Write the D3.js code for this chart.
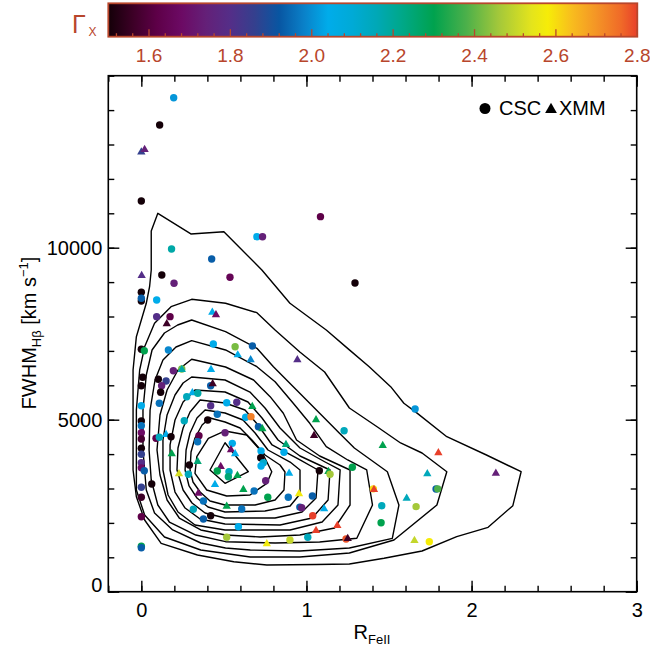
<!DOCTYPE html>
<html><head><meta charset="utf-8">
<script src="https://cdn.jsdelivr.net/npm/d3@7/dist/d3.min.js"></script>
<style>
body{margin:0;background:#fff}
svg{display:block}
text{font-family:"Liberation Sans",Arial,Helvetica,sans-serif}
</style>
</head><body>
<svg id="chart" width="650" height="652"></svg>
<script>
// ---------------- DATA ----------------
const rFeII = [0.196,0.111,0.00,0.02,0.00,1.085,0.70,0.734,0.183,0.426,1.294,0.002,0.124,0.537,0.198,0.0,0.0,0.0,0.093,0.43,
0.452,0.093,0.174,0.154,0.0,0.018,0.164,0.436,0.568,0.673,0.584,0.662,0.945,0.008,0.0,0.103,0.194,0.245,0.245,0.422,
0.15,0.123,0.117,0.42,0.432,0.0,0.109,0.309,0.342,0.275,0.42,0.517,0.578,0.672,0.46,0.402,0.632,0.664,0.709,0.733,
1.058,1.046,1.228,1.462,0.0,0.0,0.0,0.0,0.089,0.109,0.15,0.18,0.26,0.349,0.341,0.507,0.551,0.0,0.0,0.0,
0.0,0.018,0.0,0.0,0.0,0.0,0.0,0.063,0.184,0.291,0.228,0.285,0.341,0.543,0.568,0.481,0.46,0.531,0.527,0.582,
0.446,0.618,0.725,0.723,0.739,0.725,0.864,0.876,1.078,0.895,1.133,1.143,1.278,0.753,0.683,0.766,0.345,0.376,0.315,0.376,
0.42,0.517,0.608,0.588,0.517,0.76,0.90,1.008,0.955,0.89,0.96,0.971,1.036,1.107,1.038,1.058,1.187,1.24,1.25,1.405,
1.409,1.456,1.452,1.658,1.799,1.732,2.147,1.607,1.785,1.795,1.664,1.654,1.744];
const fwhmHb = [14360,13567,12800,12870,11357,10902,10320,10320,9962,9672,8974,9206,9206,9139,8965,8703,8450,8530,8480,8140,
8064,7995,7995,7803,7047,7006,7026,7200,7122,7142,6900,6756,6756,6233,5989,6175,6425,6474,6474,6474,
6125,5989,5797,5989,6058,5407,5477,5797,5768,5669,5407,5494,5506,5398,5157,4991,5070,5088,4797,4750,
5012,4555,4680,4265,4962,4826,4622,4439,4459,4488,4584,4506,4971,4535,4361,4622,4313,4168,3994,3750,
3600,3518,3035,2744,2180,1320,1279,3131,4023,3683,3442,3413,3799,4140,4023,3654,3509,3489,3343,3392,
3131,2986,4090,3896,3750,3654,4052,4294,3518,3460,3509,3413,3616,3227,2927,2744,2878,2637,2395,2113,
2209,2500,2404,1890,1581,1407,1503,1581,2860,2744,2460,2442,2782,2424,2209,1794,1939,1532,1560,2990,
2986,2500,2006,5311,4052,3442,3460,2733,2986,2990,2472,1503,1454];
const gammaX = [2.01,1.50,1.86,1.74,1.50,1.62,2.04,1.74,2.18,1.93,1.50,1.80,1.50,1.65,1.74,1.50,1.50,1.93,2.04,2.04,
1.68,1.80,1.62,1.56,1.50,2.30,1.99,2.04,2.42,1.93,2.04,1.99,1.80,1.50,1.50,1.50,1.74,2.42,2.18,2.04,
1.86,1.74,1.50,1.93,1.56,2.04,1.96,2.04,2.18,2.15,1.80,2.04,1.80,2.30,1.96,1.50,2.04,2.73,1.93,2.30,
2.30,1.56,2.15,2.30,1.50,1.96,1.68,1.58,1.62,2.15,2.04,1.50,2.15,1.62,1.96,1.74,2.04,1.50,1.86,1.80,
1.68,1.93,1.86,1.56,1.62,2.30,1.93,1.50,2.30,1.50,2.52,2.15,2.25,1.68,2.04,1.68,2.30,2.15,2.25,2.30,
2.04,2.30,2.04,1.50,2.12,2.04,2.04,2.25,1.50,2.04,2.30,2.46,2.30,1.74,1.96,2.30,1.68,1.96,2.15,1.93,
1.50,2.30,1.96,2.04,2.46,2.57,2.50,2.15,2.57,1.96,1.93,1.74,1.93,2.04,2.80,2.80,2.80,2.78,1.56,2.60,
2.80,2.15,2.30,2.01,2.80,2.15,1.74,2.15,1.93,2.38,2.46,2.50,2.58];
const survey = ["C","C","X","X","C","C","C","C","C","C","C","X","C","C","C","C","C","C","C","X",
"X","C","C","X","C","C","C","C","C","C","X","X","X","C","C","C","C","C","X","X",
"C","C","C","C","X","C","C","X","C","C","C","C","C","X","C","C","C","C","C","X",
"X","X","C","X","C","C","C","C","C","C","X","C","C","C","C","C","C","C","C","C",
"C","C","C","C","C","C","C","C","X","C","X","C","X","X","X","X","C","C","C","X",
"X","X","C","C","C","C","C","X","C","X","X","C","C","C","C","C","X","C","C","C",
"C","X","C","C","C","X","C","C","X","C","C","C","C","X","C","X","X","C","X","C",
"X","C","C","C","X","X","X","X","C","C","C","X","C"];

// density contours of the parent sample, outermost first  [R_FeII, FWHM]
const contours = [
 [[0.10,11000],[0.30,10400],[0.50,10465],[0.73,9352],[0.90,8384],[1.12,7608],[1.26,7030],[1.38,6540],[1.51,5960],[1.59,5477],[1.67,5190],[1.85,4505],[2.09,3974],[2.30,3488],[2.25,2500],[2.10,1872],[1.91,1600],[1.70,1183],[1.47,971],[1.26,805],[1.06,791],[0.76,776],[0.56,872],[0.34,1067],[0.12,1407],[0.02,2084],[-0.03,2760],[-0.05,3538],[-0.05,4410],[-0.05,6445],[-0.03,7413],[0.03,8384],[0.05,8866],[0.06,9352],[0.06,10485]],
 [[0.305,8500],[0.51,8384],[0.70,8111],[0.81,7608],[0.96,6970],[1.11,6387],[1.26,5340],[1.43,4788],[1.57,4323],[1.70,4032],[1.85,3488],[1.79,2520],[1.53,1503],[1.26,1125],[0.96,1009],[0.66,1009],[0.36,1212],[0.14,1590],[0.02,2230],[-0.03,2956],[-0.03,4119],[-0.03,5282],[-0.01,6445],[0.02,7120],[0.08,7802],[0.18,8285]],
 [[0.305,7899],[0.51,7558],[0.70,7076],[0.80,6541],[0.94,5864],[1.08,5186],[1.20,4605],[1.29,4177],[1.49,3488],[1.56,2520],[1.52,1552],[1.26,1270],[0.96,1183],[0.66,1212],[0.51,1270],[0.36,1416],[0.19,1794],[0.08,2288],[0.03,2956],[0.01,4119],[0.01,5282],[0.03,6300],[0.065,7027],[0.14,7520],[0.22,7753]],
 [[0.305,7297],[0.51,7027],[0.70,6541],[0.81,6105],[0.92,5477],[1.02,4895],[1.12,4215],[1.25,3829],[1.365,3538],[1.40,2520],[1.305,1552],[1.08,1445],[0.81,1416],[0.51,1454],[0.33,1648],[0.17,2026],[0.10,2520],[0.06,3247],[0.047,4119],[0.053,5282],[0.083,6154],[0.131,6736],[0.21,7113]],
 [[0.305,6756],[0.51,6532],[0.68,6154],[0.78,5669],[0.86,5186],[0.94,4410],[1.08,3945],[1.264,3538],[1.264,2520],[1.17,1852],[0.96,1648],[0.72,1590],[0.51,1648],[0.36,1794],[0.23,2142],[0.156,2666],[0.113,3392],[0.095,4119],[0.113,5137],[0.156,5864],[0.222,6445]],
 [[0.305,6241],[0.507,6154],[0.658,5805],[0.749,5340],[0.840,4759],[0.961,4177],[1.113,3770],[1.204,3538],[1.191,2520],[1.095,2026],[0.901,1794],[0.507,1794],[0.325,1939],[0.222,2317],[0.162,2811],[0.131,3538],[0.131,4410],[0.156,5137],[0.204,5718],[0.253,6067]],
 [[0.325,5864],[0.507,5805],[0.646,5515],[0.731,5049],[0.828,4410],[0.961,3945],[1.143,3538],[1.131,2666],[1.034,2142],[0.840,1939],[0.507,1968],[0.356,2113],[0.265,2433],[0.204,2898],[0.174,3538],[0.174,4265],[0.204,4991],[0.253,5515]],
 [[0.356,5573],[0.507,5486],[0.628,5282],[0.707,4846],[0.792,4265],[0.961,3829],[1.070,3538],[1.058,2724],[0.973,2317],[0.810,2142],[0.507,2142],[0.386,2288],[0.307,2578],[0.253,2956],[0.216,3538],[0.222,4177],[0.253,4759],[0.295,5224]],
 [[0.386,5282],[0.507,5195],[0.616,4991],[0.689,4613],[0.767,4119],[0.901,3770],[0.961,3538],[0.961,2840],[0.901,2491],[0.749,2346],[0.507,2317],[0.404,2462],[0.337,2724],[0.289,3073],[0.265,3538],[0.271,4119],[0.295,4613],[0.337,5049]],
 [[0.416,5049],[0.507,4933],[0.598,4759],[0.670,4410],[0.749,3974],[0.840,3683],[0.870,3480],[0.864,2956],[0.810,2666],[0.689,2520],[0.507,2520],[0.416,2637],[0.356,2898],[0.313,3189],[0.295,3538],[0.301,4061],[0.325,4468],[0.368,4846]],
 [[0.507,4672],[0.638,4555],[0.729,4070],[0.790,3488],[0.760,3151],[0.658,2811],[0.517,2782],[0.396,2956],[0.325,3442],[0.336,3924],[0.406,4459]],
 [[0.507,4331],[0.648,3488],[0.507,3151],[0.416,3538]]
];

// colour table for Gamma_X
const gammaStops  = [1.50,1.56,1.62,1.68,1.74,1.80,1.86,1.92,1.98,2.04,2.10,2.16,2.22,2.30,2.38,2.46,2.54,2.58,2.64,2.70,2.76,2.80];
const gammaColors = ["#140008","#3c0026","#5e0048","#6c0a64","#642078","#542e88","#34408e","#0856a2","#0a80c8","#00acea","#00aad6","#00a8b6","#00a88a","#00a24e","#4cb04a","#a4c83a","#e4e41c","#f6ec08","#f8bc1e","#f49426","#f06a28","#e8402a"];

const xTickValues = [0,1,2,3];
const yTickValues = [0,5000,10000];
const cbTickValues = [1.6,1.8,2.0,2.2,2.4,2.6,2.8];
const legendItems = [{label:"CSC", type:"C"},{label:"XMM", type:"X"}];

// ---------------- DRAW ----------------
const svg = d3.select("#chart");
const L = 108.3, R = 636.7, T = 75.7, B = 591.7;
const x = d3.scaleLinear().domain([-0.2, 3]).range([L, R]);
const y = d3.scaleLinear().domain([0, 15000]).range([B, T]);
const color = d3.scaleLinear().domain(gammaStops).range(gammaColors).clamp(true);
const cbRed = "#b8462c";

// colour bar
const cbT = 3.3, cbB = 36.7;
const cx = d3.scaleLinear().domain([1.5, 2.8]).range([L, 637.3]);
const grad = svg.append("defs").append("linearGradient").attr("id","cbgrad");
gammaStops.forEach((g,i)=>grad.append("stop").attr("offset",((g-1.5)/1.3*100)+"%").attr("stop-color",gammaColors[i]));
svg.append("rect").attr("x",cx(1.5)).attr("y",cbT).attr("width",cx(2.8)-cx(1.5)).attr("height",cbB-cbT)
  .attr("fill","url(#cbgrad)").attr("stroke",cbRed).attr("stroke-width",1.8);
const cbMinor = d3.range(38,71).map(i=>+(i*0.04).toFixed(2));
svg.append("g").selectAll("line").data(cbMinor).join("line")
  .attr("x1",d=>cx(d)).attr("x2",d=>cx(d))
  .attr("y1",cbB).attr("y2",d=>cbB-(cbTickValues.some(t=>Math.abs(t-d)<1e-6)?7.5:3.5))
  .attr("stroke",cbRed).attr("stroke-width",1.3);
svg.append("g").selectAll("text").data(cbTickValues).join("text")
  .attr("x",d=>cx(d)).attr("y",61.5).attr("text-anchor","middle")
  .attr("fill",cbRed).attr("font-size",19).text(d=>d.toFixed(1));
svg.append("text").attr("x",72).attr("y",33).attr("fill",cbRed)
  .attr("font-family","Liberation Serif, serif").attr("font-size",25).text("Γ");
svg.append("text").attr("x",88.5).attr("y",36).attr("fill",cbRed).attr("font-size",12).text("X");

// contours
const line = d3.line().x(d=>x(d[0])).y(d=>y(d[1])).curve(d3.curveLinearClosed);
svg.append("g").selectAll("path").data(contours).join("path")
  .attr("d",line).attr("fill","none").attr("stroke","#000").attr("stroke-width",1.4).attr("stroke-linejoin","round");

// points
const pts = rFeII.map((v,i)=>({x:v,y:fwhmHb[i],g:gammaX[i],s:survey[i]}));
const tri = d3.symbol().type(d3.symbolTriangle).size(30);
const gp = svg.append("g");
pts.forEach(p=>{
  if(p.s==="C"){
    gp.append("circle").attr("cx",x(p.x)).attr("cy",y(p.y)).attr("r",3.7).attr("fill",color(p.g));
  } else {
    gp.append("path").attr("d",tri).attr("transform",`translate(${x(p.x)},${y(p.y)+0.6})`).attr("fill",color(p.g));
  }
});

// axes (ticks inside, on all four sides)
const xMinor = d3.range(-1,16).map(i=>+(i*0.2).toFixed(1));
const yMinor = d3.range(0,16).map(i=>i*1000);
function ax(g, axis){ g.call(axis); g.select(".domain").remove(); g.selectAll("line").attr("stroke","#000").attr("stroke-width",1.4); }
ax(svg.append("g").attr("transform",`translate(0,${B})`), d3.axisBottom(x).tickValues(xMinor).tickSize(-6).tickFormat(""));
ax(svg.append("g").attr("transform",`translate(0,${T})`), d3.axisTop(x).tickValues(xMinor).tickSize(-6).tickFormat(""));
ax(svg.append("g").attr("transform",`translate(${L},0)`), d3.axisLeft(y).tickValues(yMinor).tickSize(-6).tickFormat(""));
ax(svg.append("g").attr("transform",`translate(${R},0)`), d3.axisRight(y).tickValues(yMinor).tickSize(-6).tickFormat(""));
const gxb = svg.append("g").attr("transform",`translate(0,${B})`);
ax(gxb, d3.axisBottom(x).tickValues(xTickValues).tickSize(-11).tickPadding(11).tickFormat(d3.format("d")));
ax(svg.append("g").attr("transform",`translate(0,${T})`), d3.axisTop(x).tickValues(xTickValues).tickSize(-11).tickFormat(""));
const gyl = svg.append("g").attr("transform",`translate(${L},0)`);
ax(gyl, d3.axisLeft(y).tickValues(yTickValues).tickSize(-11).tickPadding(6).tickFormat(d3.format("d")));
ax(svg.append("g").attr("transform",`translate(${R},0)`), d3.axisRight(y).tickValues(yTickValues).tickSize(-11).tickFormat(""));
svg.selectAll(".tick text").attr("font-size",20).attr("font-family","Liberation Sans, Arial, sans-serif").attr("fill","#000");
gyl.selectAll(".tick").filter(d=>d===0).select("text").attr("dy","0.0em");

// frame
svg.append("rect").attr("x",L).attr("y",T).attr("width",R-L).attr("height",B-T)
  .attr("fill","none").attr("stroke","#000").attr("stroke-width",1.6);

// axis titles
const xt = svg.append("text").attr("x",372).attr("y",639).attr("text-anchor","middle").attr("font-size",20);
xt.append("tspan").text("R");
xt.append("tspan").attr("font-size",13).attr("dy",5).text("FeII");
const yt = svg.append("text").attr("transform","translate(36,333) rotate(-90)").attr("text-anchor","middle").attr("font-size",20);
yt.append("tspan").text("FWHM");
yt.append("tspan").attr("font-size",13).attr("dy",5).text("Hβ");
yt.append("tspan").attr("dy",-5).text(" [km s");
yt.append("tspan").attr("font-size",13).attr("dy",-8).text("−1");
yt.append("tspan").attr("dy",8).text("]");

// legend
const lg = svg.append("g");
lg.append("circle").attr("cx",485).attr("cy",108.5).attr("r",5.5).attr("fill","#000");
lg.append("text").attr("x",499).attr("y",114.5).attr("font-size",20).text(legendItems[0].label);
lg.append("path").attr("d",d3.symbol().type(d3.symbolTriangle).size(60)).attr("transform","translate(551,109.5)").attr("fill","#000");
lg.append("text").attr("x",559).attr("y",114.5).attr("font-size",20).text(legendItems[1].label);
</script>
</body></html>
